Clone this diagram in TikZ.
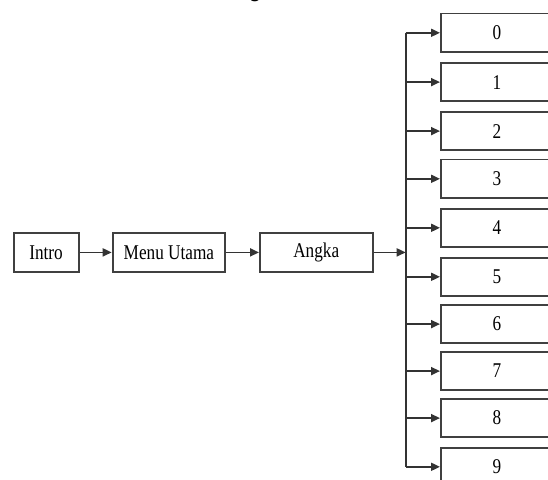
\documentclass[tikz,border=0pt]{standalone}
\usepackage{fontspec}
\setmainfont{Liberation Serif}[FakeStretch=0.82]
\usetikzlibrary{arrows.meta}
\begin{document}
\begin{tikzpicture}[x=1bp,y=-1bp,
  box/.style={draw=black!75, line width=1.8bp, minimum height=38.4bp, inner sep=0pt,
    font=\fontsize{21bp}{24bp}\selectfont, anchor=north west},
  dbox/.style={box, minimum width=112bp},
  arr/.style={draw=black!80, line width=1.8bp, -{Triangle[length=9bp,width=8bp]}},
  ln/.style={draw=black!80, line width=1.8bp}]
\useasboundingbox (0,0) rectangle (548,480);
% clipped title fragment
\node[font=\bfseries\fontsize{24bp}{24bp}\selectfont, anchor=base, inner sep=0pt] (title) at (255,-3) {g};
% main row
\node[box, minimum width=65bp] (intro) at (12.7,232.3) {Intro};
\node[box, minimum width=112.6bp] (menu) at (111.7,232.3) {Menu Utama};
\node[box, minimum width=112.7bp] (angka) at (259,232.3) {Angka};
\draw[arr] (intro.east) -- (menu.west);
\draw[arr] (menu.east) -- (angka.west);
% digit boxes
\foreach \i/\t in {0/12.7,1/62,2/111,3/158.7,4/207.7,5/256.7,6/304,7/351,8/398,9/446.7}{
  \node[dbox] (d\i) at (440,\t) {\i};
}
\coordinate (bus) at (405.7,0);
\draw[ln] (d0.west -| bus) -- (d9.west -| bus);
\draw[arr] (angka.east) -- (angka.east -| bus);
\foreach \i in {0,...,9}{
  \draw[arr] (d\i.west -| bus) -- (d\i.west);
}
\end{tikzpicture}
\end{document}
